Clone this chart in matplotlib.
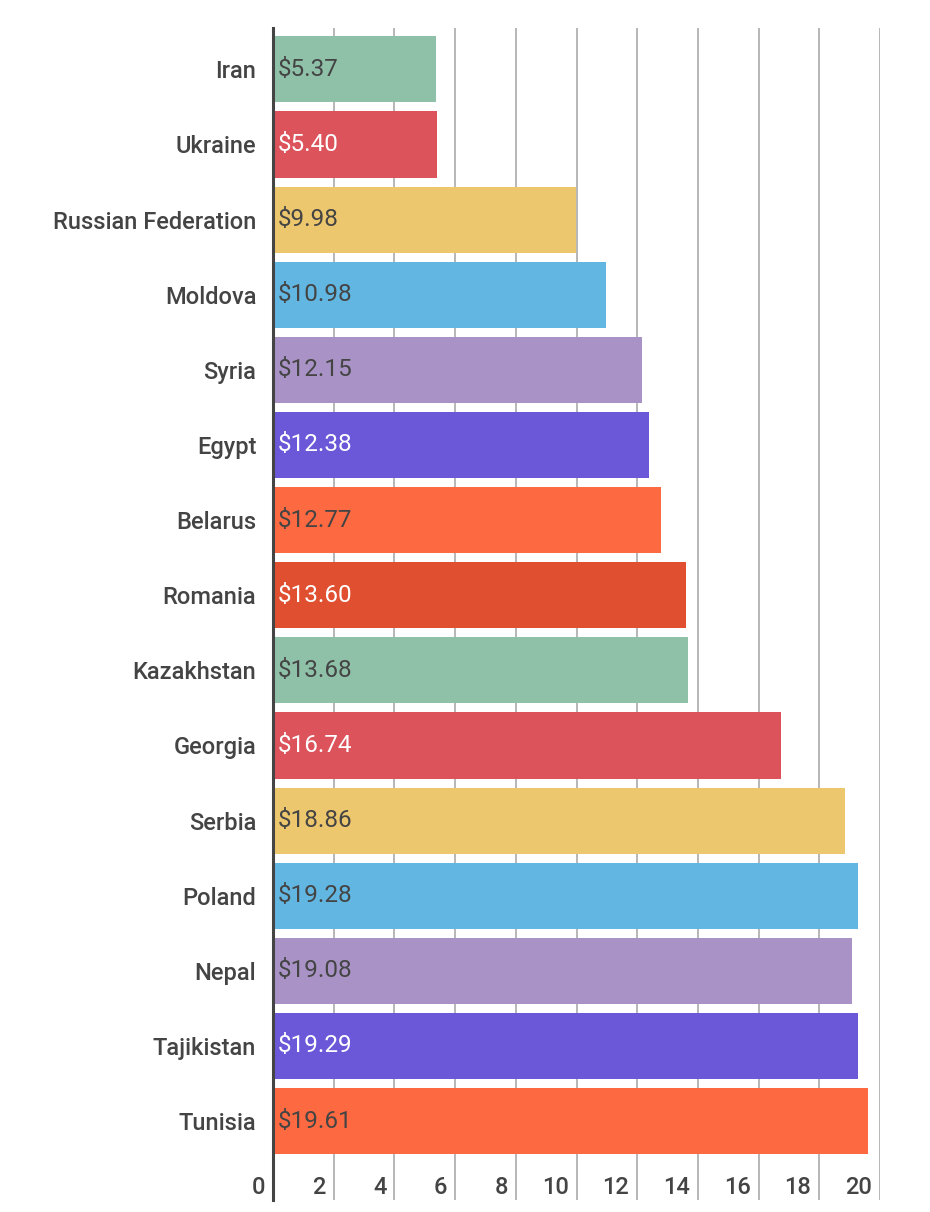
import numpy as np
import matplotlib.pyplot as plt

plt.rcParams['font.family'] = ['Roboto', 'DejaVu Sans']

countries = ['Iran', 'Ukraine', 'Russian Federation', 'Moldova', 'Syria', 'Egypt',
             'Belarus', 'Romania', 'Kazakhstan', 'Georgia', 'Serbia', 'Poland',
             'Nepal', 'Tajikistan', 'Tunisia']
values = [5.37, 5.40, 9.98, 10.98, 12.15, 12.38, 12.77, 13.60, 13.68, 16.74,
          18.86, 19.28, 19.08, 19.29, 19.61]
palette = ['#8fc1a9', '#dc535b', '#edc76e', '#62b6e2', '#a993c6', '#6b58d8',
           '#fd6a41', '#e04f2f']
white_labels = ['Ukraine', 'Egypt', 'Romania', 'Georgia', 'Tajikistan']
xticks = [0, 2, 4, 6, 8, 10, 12, 14, 16, 18, 20]

fig = plt.figure(figsize=(9.3, 12.12), dpi=100)
ax = fig.add_axes([273/930, 1 - 1200/1212, (880 - 273)/930, (1200 - 28)/1212])

y = np.arange(len(countries))
colors = [palette[i % len(palette)] for i in range(len(countries))]
ax.barh(y, values, height=0.88, color=colors, zorder=2)

ax.set_xlim(0, 20)
ax.set_ylim(len(countries) - 1 + 1.05, -0.55)

ax.set_xticks(xticks[1:])
ax.tick_params(axis='x', length=0, labelbottom=False)
ax.grid(axis='x', color='#aaaaaa', linewidth=1.2)
ax.set_axisbelow(True)

ax.set_yticks(y)
ax.set_yticklabels(countries, fontsize=17, fontweight='medium', color='#444444')
ax.tick_params(axis='y', length=0, pad=12)

for s in ['top', 'right', 'bottom']:
    ax.spines[s].set_visible(False)
ax.spines['left'].set_color('#444444')
ax.spines['left'].set_linewidth(2.2)
ax.spines['left'].set_zorder(3)

# value labels inside the bars
for yi, v, c in zip(y, values, countries):
    col = 'white' if c in white_labels else '#444444'
    ax.annotate(f'${v:.2f}', xy=(0, yi), xytext=(5, 0), textcoords='offset pixels',
                ha='left', va='center', fontsize=17.5, color=col, zorder=4)

# x tick labels sit just left of their gridline, inside the plot area
trans = ax.get_xaxis_transform()
for t in xticks:
    ax.annotate(str(t), xy=(t, 0.0105), xycoords=trans, xytext=(-8, 0),
                textcoords='offset pixels', ha='right', va='center',
                fontsize=17, fontweight='medium', color='#444444')

fig.savefig('out.png', dpi=100)
